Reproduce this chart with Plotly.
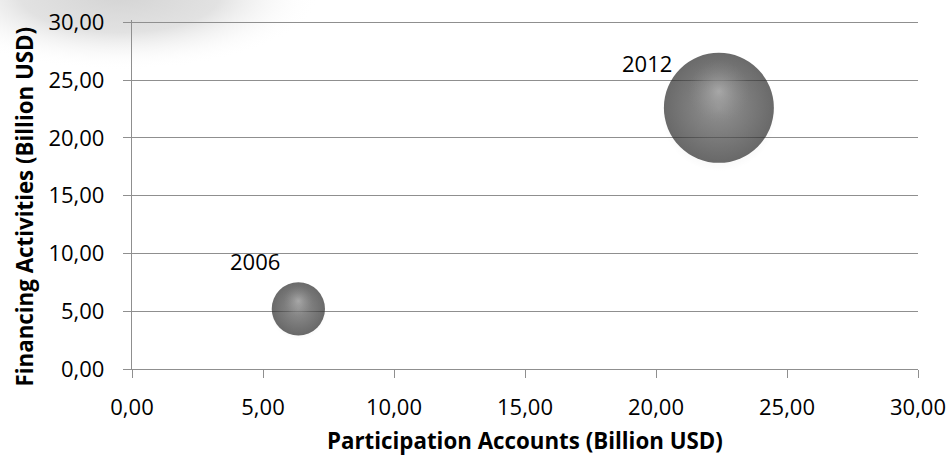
import base64
import math
import plotly.graph_objects as go

years = ["2006", "2012"]
participation_accounts = [6.35, 22.4]   # x, Billion USD
financing_activities = [5.2, 22.6]      # y, Billion USD
bubble_size = [5.3, 22.6]

x_ticks = [0, 5, 10, 15, 20, 25, 30]
x_tick_labels = ["0,00", "5,00", "10,00", "15,00", "20,00", "25,00", "30,00"]
y_ticks = [0, 5, 10, 15, 20, 25, 30]
y_tick_labels = ["0,00", "5,00", "10,00", "15,00", "20,00", "25,00", "30,00"]

FONT = "Open Sans"
W, H = 952, 455
ML, MR, MT, MB = 132, 34, 20, 86
Y_MAX = 30.2
plot_w = W - ML - MR
plot_h = H - MT - MB
sizeref = 2 * max(bubble_size) / (110 ** 2)

# pixel radius of each bubble -> data-unit offsets for shading layers
radius_px = [math.sqrt(2 * s / sizeref) / 2 for s in bubble_size]
units_per_px = Y_MAX / plot_h
hl_y = [y + 0.30 * r * units_per_px for y, r in zip(financing_activities, radius_px)]
sh_y = [y - 0.10 * r * units_per_px for y, r in zip(financing_activities, radius_px)]

fig = go.Figure()
# soft shadow
fig.add_trace(go.Scatter(
    x=participation_accounts, y=sh_y, mode="markers",
    marker=dict(size=bubble_size, sizemode="area", sizeref=sizeref / 1.12,
                color="rgba(0,0,0,0)", line=dict(width=0),
                gradient=dict(type="radial", color="rgba(0,0,0,0.22)")),
    hoverinfo="skip", showlegend=False))
# main sphere: marker color = edge, gradient color = centre
fig.add_trace(go.Scatter(
    x=participation_accounts, y=financing_activities, mode="markers",
    marker=dict(size=bubble_size, sizemode="area", sizeref=sizeref,
                color="#2a2a2a", line=dict(width=0),
                gradient=dict(type="radial", color="#747474")),
    hoverinfo="skip", showlegend=False))
# highlight
fig.add_trace(go.Scatter(
    x=participation_accounts, y=hl_y, mode="markers",
    marker=dict(size=bubble_size, sizemode="area", sizeref=sizeref * 3.2,
                color="rgba(140,140,140,0)", line=dict(width=0),
                gradient=dict(type="radial", color="rgba(190,190,190,0.85)")),
    hoverinfo="skip", showlegend=False))

label_shift = [(-43, 48), (-72, 44.5)]
for xv, yv, t, (dx, dy) in zip(participation_accounts, financing_activities, years, label_shift):
    fig.add_annotation(x=xv, y=yv, text=t, showarrow=False, xanchor="center", yanchor="middle",
                       xshift=dx, yshift=dy, font=dict(family=FONT, size=22, color="#000"))

# axis titles (annotations for exact positioning)
fig.add_annotation(xref="paper", yref="paper", x=0.5, y=(plot_h - (440 - MT)) / plot_h,
                   text="<b>Participation Accounts (Billion USD)</b>", showarrow=False,
                   xanchor="center", yanchor="middle", font=dict(family=FONT, size=22.3, color="#000"))
fig.add_annotation(xref="paper", yref="paper", x=(23.5 - ML) / plot_w, y=(plot_h - (207 - MT)) / plot_h,
                   text="<b>Financing Activities (Billion USD)</b>", showarrow=False, textangle=-90,
                   xanchor="center", yanchor="middle", font=dict(family=FONT, size=22.3, color="#000"))

svg = ('<svg xmlns="http://www.w3.org/2000/svg" width="380" height="100">'
       '<defs><radialGradient id="g" cx="0.5" cy="0.5" r="0.5">'
       '<stop offset="0" stop-color="#d4d4d4"/><stop offset="0.5" stop-color="#e2e2e2"/>'
       '<stop offset="1" stop-color="#ffffff" stop-opacity="0"/></radialGradient></defs>'
       '<ellipse cx="120" cy="-5" rx="200" ry="75" fill="url(#g)"/></svg>')
src = "data:image/svg+xml;base64," + base64.b64encode(svg.encode()).decode()
fig.add_layout_image(dict(source=src, xref="paper", yref="paper", x=-ML / plot_w, y=(plot_h + MT) / plot_h,
                          sizex=380 / plot_w, sizey=100 / plot_h, sizing="stretch", layer="below",
                          xanchor="left", yanchor="top"))

axis_color = "#8f8f8f"
fig.update_layout(
    width=W, height=H,
    margin=dict(l=ML, r=MR, t=MT, b=MB),
    paper_bgcolor="white", plot_bgcolor="rgba(0,0,0,0)",
    font=dict(family=FONT, size=22, color="#000"),
    xaxis=dict(range=[0, 30], tickvals=x_ticks, ticktext=x_tick_labels, automargin=False,
               showgrid=False, zeroline=False, showline=True, linecolor=axis_color, linewidth=1.3,
               ticks="outside", ticklen=8, tickcolor=axis_color, tickwidth=1.3,
               tickfont=dict(size=22), ticklabelstandoff=10, ticklabeloverflow="allow",
               layer="below traces"),
    yaxis=dict(range=[0, Y_MAX], tickvals=y_ticks, ticktext=y_tick_labels, automargin=False,
               showgrid=True, gridcolor=axis_color, gridwidth=1.3, zeroline=False,
               showline=True, linecolor=axis_color, linewidth=1.3,
               ticks="outside", ticklen=8, tickcolor=axis_color, tickwidth=1.3,
               tickfont=dict(size=22), ticklabelstandoff=14, ticklabeloverflow="allow",
               layer="below traces"),
)
fig.write_html("out.html", config={"displayModeBar": False},
               post_script="document.body.style.margin='0';document.body.style.overflow='hidden';")
